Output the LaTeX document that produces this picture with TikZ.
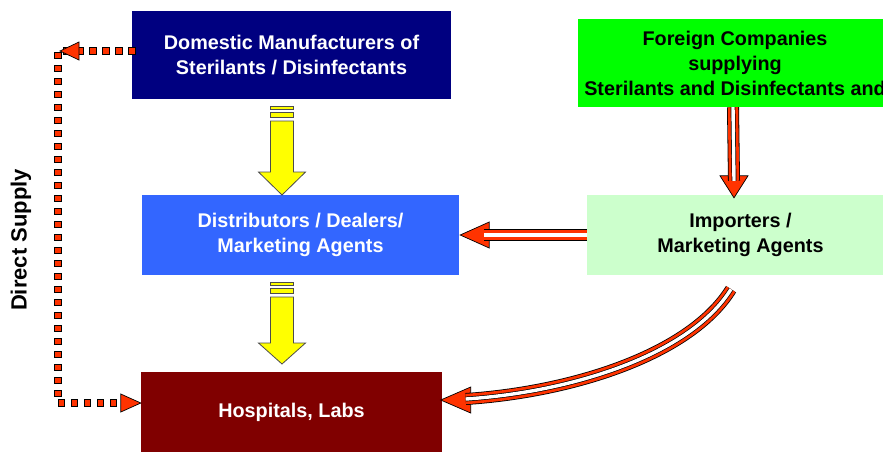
\documentclass[tikz,border=0pt]{standalone}
\usepackage{fontspec}
\setmainfont{Liberation Sans}
\usetikzlibrary{decorations.markings,calc}
\definecolor{navyb}{HTML}{000080}
\definecolor{limeg}{HTML}{00FF00}
\definecolor{distb}{HTML}{3366FF}
\definecolor{impg}{HTML}{CCFFCC}
\definecolor{maroonb}{HTML}{800000}
\definecolor{arrred}{HTML}{FF3300}
\definecolor{yel}{HTML}{FFFF00}
\newcommand\railpath[1]{%
  \draw[line width=12pt,black,line cap=butt]#1;
  \draw[line width=10.4pt,arrred,line cap=butt]#1;
  \draw[line width=4.8pt,black,line cap=butt]#1;
  \draw[line width=3.4pt,white,line cap=butt]#1;}
% #1 x centre, #2 top, #3 head base, #4 tip
\newcommand\yarrow[4]{%
  \filldraw[yarr] (#1-11.5,#2) rectangle (#1+11.5,#2+3);
  \filldraw[yarr] (#1-11.5,#2+6) rectangle (#1+11.5,#2+11);
  \filldraw[yarr] (#1-11.5,#2+15) -- (#1+11.5,#2+15) -- (#1+11.5,#3)
     -- (#1+23.5,#3) -- (#1,#4) -- (#1-23.5,#3) -- (#1-11.5,#3) -- cycle;}
\begin{document}
\begin{tikzpicture}[x=1pt,y=-1pt,
  box/.style={rectangle, inner sep=0pt, align=center,
    font=\fontsize{19.8}{25}\selectfont\bfseries},
  yarr/.style={fill=yel, draw=black!70, line width=0.8pt, line join=miter},
  rhead/.style={fill=arrred, draw=black, line width=0.7pt, line join=miter},
  sq/.style={rectangle, fill=arrred, draw=black, line width=0.7pt,
    minimum size=6.5pt, inner sep=0pt},
  sqdots/.style={postaction={decorate}, decoration={markings,
    mark=between positions 0 and 1 step 13pt with {\node[sq]{};}}}]
\useasboundingbox (0,0) rectangle (883,451);
\clip (0,0) rectangle (883,451);

% boxes
\node[box, fill=navyb, text=white, minimum width=319pt, minimum height=88pt]
  (dom) at (291.5,55) {Domestic Manufacturers of\\Sterilants / Disinfectants};
\node[box, fill=limeg, text=black, minimum width=314pt, minimum height=88pt]
  (frn) at (735,63) {Foreign Companies\\supplying\\Sterilants and Disinfectants and};
\node[box, fill=distb, text=white, minimum width=317pt, minimum height=80pt]
  (dist) at (300.5,235) {Distributors / Dealers/\\Marketing Agents};
\node[box, fill=impg, text=black, minimum width=307pt, minimum height=80pt]
  (imp) at (740.5,235) {Importers /\\Marketing Agents};
\node[box, fill=maroonb, text=white, minimum width=301pt, minimum height=80pt]
  (hosp) at (291.5,412) {Hospitals, Labs};

\node[rotate=90, font=\fontsize{22}{26}\selectfont\bfseries] (ds) at (21,240) {Direct Supply};

% yellow arrows
\yarrow{282}{106}{172}{195}
\yarrow{282}{282}{343}{364}

% Foreign -> Importers
\coordinate (f1) at ($(frn.south)+(-2,0)$);
\coordinate (f2) at ($(imp.north)+(-6.5,3)$);
\filldraw[rhead] (f2) -- ++(-14,-22) -- ++(28,0) -- cycle;
\railpath{(f1) -- ($(f2)+(0,-17)$)}

% Importers -> Distributors
\coordinate (i1) at ($(imp.west)+(0,0)$);
\coordinate (i2) at ($(dist.east)+(1,0)$);
\filldraw[rhead] (i2) -- ++(29,-13) -- ++(0,26) -- cycle;
\railpath{(i1) -- ($(i2)+(24,0)$)}

% Importers -> Hospitals (curved)
\coordinate (c1) at ($(imp.south)+(-9.5,14)$);
\coordinate (c2) at ($(hosp.east)+(-1.5,-12)$);
\filldraw[rhead] (c2) -- ++(30,-13) -- ++(0,26) -- cycle;
\railpath{(c1) .. controls (690,355) and (572,392) .. ($(c2)+(25,-1)$)}

% direct supply dotted connector
\coordinate (d1) at ($(dom.west)+(0,-4)$);
\coordinate (d2) at (58,51);
\coordinate (d3) at (58,403);
\coordinate (d4) at ($(hosp.west)+(0,-9)$);
\path[sqdots] (d1) -- (d2) -- (d3) -- ($(d4)+(-8,0)$);
\filldraw[rhead] ($(d2)+(2,0)$) -- ++(19,-9) -- ++(0,18) -- cycle;
\filldraw[rhead] (d4) -- ++(-20,-9) -- ++(0,18) -- cycle;
\end{tikzpicture}
\end{document}
